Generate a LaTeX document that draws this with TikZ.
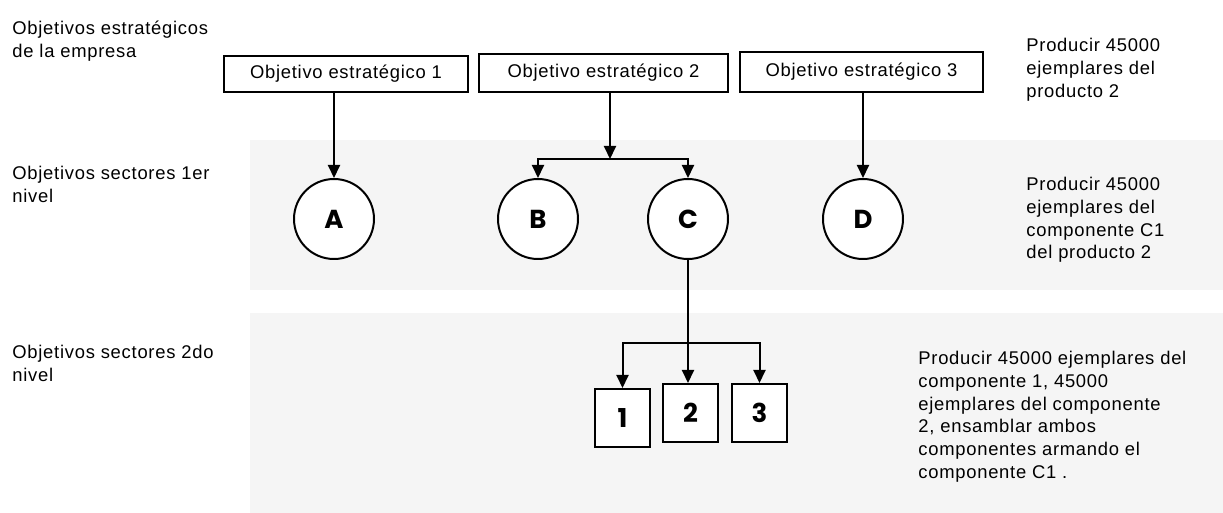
\documentclass[tikz,border=0pt]{standalone}
\usepackage{fontspec}
\setmainfont{Liberation Sans}[LetterSpace=4]
\newfontfamily\geo{Poppins}
\usetikzlibrary{arrows.meta}
\begin{document}
\begin{tikzpicture}[x=0.5pt,y=-0.5pt,
  every node/.style={font=\fontsize{9.2pt}{11.4pt}\selectfont, inner sep=0pt},
  % the base anchor of a multi-line text sits on its last line
  lbl/.style={anchor=base west, align=left},
  objbox/.style={draw, line width=1pt, fill=white},
  sector/.style={draw, circle, line width=1pt, fill=white, minimum size=40pt,
    font=\geo\bfseries\fontsize{13pt}{13pt}\selectfont},
  part/.style={draw, line width=1pt, fill=white, minimum width=27.5pt, minimum height=29pt,
    font=\geo\bfseries\fontsize{13pt}{13pt}\selectfont},
  link/.style={line width=1pt},
  arr/.style={line width=1pt, -{Triangle[length=6.5pt,width=6pt]}}]

% page and paper tint
\fill[white] (0,0) rectangle (1223,513);
\fill[black!4] (250,140) rectangle (1223,290);
\fill[black!4] (250,313) rectangle (1223,513);
\useasboundingbox (0,0) rectangle (1223,513);

% row labels
\node[lbl] (t1) at (12,57.3) {Objetivos estratégicos\\de la empresa};
\node[lbl] (t2) at (12,202.3) {Objetivos sectores 1er\\nivel};
\node[lbl] (t3) at (12,381.3) {Objetivos sectores 2do\\nivel};

% notes on the right
\node[lbl] (n1) at (1026,97.1) {Producir 45000\\ejemplares del\\producto 2};
\node[lbl] (n2) at (1026,258.9) {Producir 45000\\ejemplares del\\componente C1\\del producto 2};
\node[lbl] (n3) at (918,478.5) {Producir 45000 ejemplares del\\componente 1, 45000\\ejemplares del componente\\2, ensamblar ambos\\componentes armando el\\componente C1 .};

% company objectives
\node[objbox, minimum width=122pt, minimum height=18pt] (o1) at (346,74) {Objetivo estratégico 1};
\node[objbox, minimum width=124.5pt, minimum height=19pt] (o2) at (603.5,73) {Objetivo estratégico 2};
\node[objbox, minimum width=121.5pt, minimum height=20pt] (o3) at (861.5,72) {Objetivo estratégico 3};

% first level sectors
\node[sector] (A) at (334,219) {A};
\node[sector] (B) at (538,219) {B};
\node[sector] (C) at (688,219) {C};
\node[sector] (D) at (863,219) {D};

% second level sectors
\node[part] (p1) at (622.5,418) {1};
\node[part] (p2) at (690.5,413) {2};
\node[part] (p3) at (759.5,413) {3};

% junctions
\coordinate (j2) at (610,159);
\coordinate (j3) at (688,343);

% connectors
\draw[arr] (o1.south -| A) -- (A.north);
\draw[arr] (o2.south -| j2) -- (j2);
\draw[arr] (j2) -| (B.north);
\draw[arr] (j2) -| (C.north);
\draw[arr] (o3.south -| D) -- (D.north);
\draw[link] (C.south) -- (j3);
\draw[arr] (j3) -- (j3 |- p2.north);
\draw[arr] (j3) -| (p1.north);
\draw[arr] (j3) -| (p3.north);
\end{tikzpicture}
\end{document}
